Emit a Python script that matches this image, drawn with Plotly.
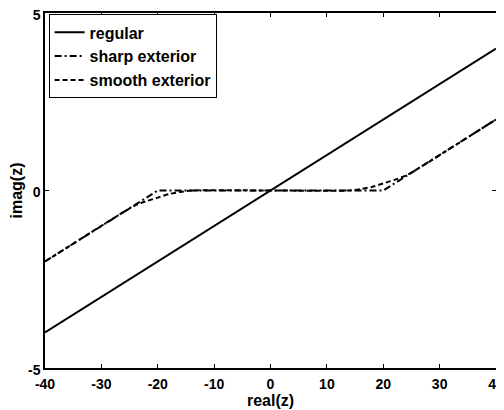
import plotly.graph_objects as go

# data
regular_x = [-40, 40]
regular_y = [-4, 4]

sharp_x = [-40, -20, 20, 40]
sharp_y = [-2, 0, 0, 2]

smooth_x = [-40, -26, -24, -22, -20, -18, -16, -14, 14, 16, 18, 20, 22, 24, 26, 40]
smooth_y = [-2, -0.6, -0.42, -0.3, -0.2, -0.1, -0.04, 0, 0, 0.04, 0.1, 0.2, 0.3, 0.42, 0.6, 2]

x_ticks = [-40, -30, -20, -10, 0, 10, 20, 30, 40]
x_tick_labels = ["-40", "-30", "-20", "-10", "0", "10", "20", "30", "40"]
y_ticks = [-5, 0, 5]
y_tick_labels = ["-5", "0", "5"]

font = dict(family="Liberation Sans, Arial, sans-serif", size=14, color="black", weight="bold")
legend_font = dict(family="Liberation Sans, Arial, sans-serif", size=16, color="black", weight="bold")

fig = go.Figure()
fig.add_trace(go.Scatter(x=regular_x, y=regular_y, mode="lines", name="regular",
                         line=dict(color="black", width=2, dash="solid")))
fig.add_trace(go.Scatter(x=sharp_x, y=sharp_y, mode="lines", name="sharp exterior",
                         line=dict(color="black", width=2, dash="7px,3px,2px,3px")))
fig.add_trace(go.Scatter(x=smooth_x, y=smooth_y, mode="lines", name="smooth exterior",
                         line=dict(color="black", width=2, dash="5px,3px", shape="spline", smoothing=0.6)))

axis_common = dict(showline=True, linecolor="black", linewidth=1.5, mirror="ticks",
                   ticks="inside", ticklen=4, tickcolor="black", showgrid=False,
                   zeroline=False, tickfont=font, automargin=False,
                   ticklabeloverflow="allow")

fig.update_xaxes(range=[-40, 40], tickvals=x_ticks, ticktext=x_tick_labels, ticklabelstandoff=2,
                 title=dict(text="real(z)", font=legend_font, standoff=0), **axis_common)
fig.update_yaxes(range=[-5, 5], tickvals=y_ticks, ticktext=y_tick_labels, ticklabelshift=2,
                 title=dict(text="imag(z)", font=legend_font, standoff=2), **axis_common)

# the page body adds an 8px offset, so the figure is sized to fit the 504x410 window
fig.update_layout(
    width=496, height=402,
    margin=dict(l=37, r=8, t=5, b=42, autoexpand=False),
    paper_bgcolor="white", plot_bgcolor="white",
    font=font,
    showlegend=True,
    legend=dict(x=0.008, y=0.996, xanchor="left", yanchor="top",
                bordercolor="black", borderwidth=1, bgcolor="white",
                font=legend_font, tracegroupgap=0, itemwidth=30),
)

fig.write_html("out.html")
